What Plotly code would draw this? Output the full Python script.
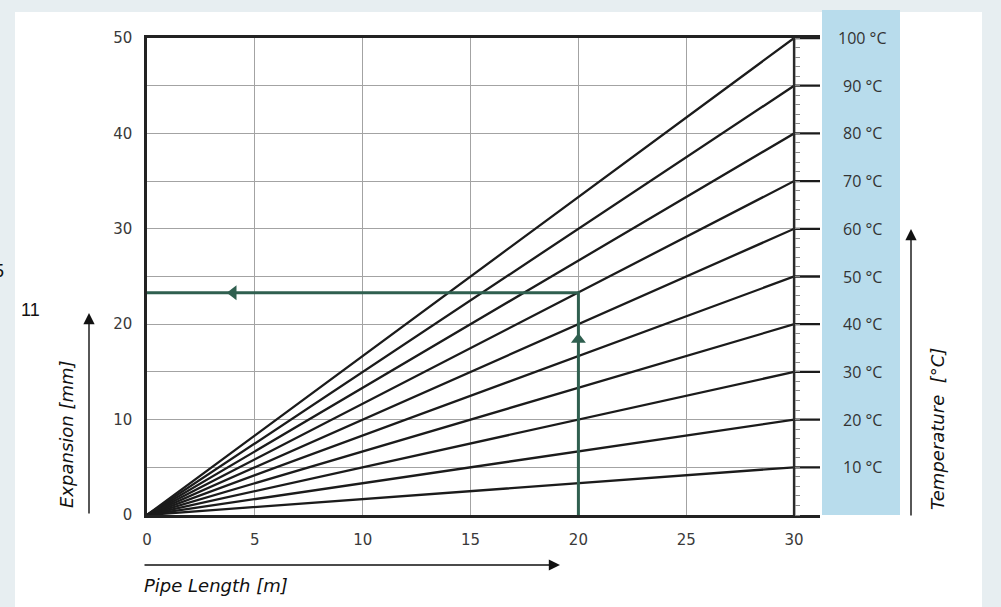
import plotly.graph_objects as go

# Temperature difference lines (expansion reached at 30 m pipe length)
temps = [10, 20, 30, 40, 50, 60, 70, 80, 90, 100]
exp_at_30m = [5, 10, 15, 20, 25, 30, 35, 40, 45, 50]
pipe_len = [0, 30, 31.2]

# Reading example (green path)
ex_len = [20, 20, 0]
ex_exp = [0, 23.3, 23.3]
arrow_x = [4.0, 20]
arrow_y = [23.3, 18.4]
arrow_sym = ["triangle-left", "triangle-up"]

x_ticks = [0, 5, 10, 15, 20, 25, 30]
y_ticks = [0, 10, 20, 30, 40, 50]

GREEN = "#2f5f4f"
INK = "#1b1b1b"
BG = "#e7eef1"

# pixel helpers for things drawn outside the plot area
L, R, T, B = 147, 820, 38, 515
def px(x):
    return (x - L) / (R - L)
def py(y):
    return (B - y) / (B - T)

fig = go.Figure()

for t, e in zip(temps, exp_at_30m):
    fig.add_trace(go.Scatter(
        x=pipe_len, y=[0, e, e], mode="lines", name=f"{t} °C",
        line=dict(color=INK, width=2.3), hoverinfo="skip"
    ))

# vertical line at 30 m
fig.add_trace(go.Scatter(
    x=[30, 30], y=[0, 50], mode="lines",
    line=dict(color="#2a2a2a", width=2.5), hoverinfo="skip"
))

fig.add_trace(go.Scatter(
    x=ex_len, y=ex_exp, mode="lines",
    line=dict(color=GREEN, width=3), hoverinfo="skip"
))
fig.add_trace(go.Scatter(
    x=arrow_x, y=arrow_y, mode="markers",
    marker=dict(symbol=arrow_sym, size=13, color=GREEN), hoverinfo="skip"
))

shapes = [
    # white panel on light frame
    dict(type="rect", xref="paper", yref="paper", layer="below",
         x0=px(15), x1=px(982), y0=py(610), y1=py(12),
         fillcolor="white", line_width=0),
    # blue temperature band
    dict(type="rect", xref="paper", yref="paper", layer="below",
         x0=px(822), x1=px(900), y0=py(515), y1=py(10),
         fillcolor="#b8dcec", line_width=0),
]

annotations = []
for t, e in zip(temps, exp_at_30m):
    annotations.append(dict(
        x=px(862), y=e, xref="paper", yref="y", text=f"{t} °C",
        xanchor="center", yanchor="middle",
        showarrow=False, font=dict(family="Open Sans", size=16, color="#333")
    ))

# axis arrows
arrow_style = dict(showarrow=True, arrowhead=2, arrowsize=1.6, arrowwidth=1.4,
                   arrowcolor="#111", text="", xref="paper", yref="paper")
annotations += [
    dict(x=px(560), y=py(565), ax=-417, ay=0, **arrow_style),
    dict(x=px(89), y=py(313), ax=0, ay=202, **arrow_style),
    dict(x=px(911), y=py(229), ax=0, ay=288, **arrow_style),
]
lbl_font = dict(family="DejaVu Sans", size=18, color="#111")
txt = dict(xref="paper", yref="paper", showarrow=False, yanchor="middle")
annotations += [
    dict(x=px(142), y=py(585), xanchor="left",
         text="<i>Pipe Length [m]</i>", font=lbl_font, **txt),
    dict(x=px(66), y=py(434), xanchor="center", textangle=-90,
         text="<i>Expansion [mm]</i>", font=lbl_font, **txt),
    dict(x=px(937), y=py(429), xanchor="center", textangle=-90,
         text="<i>Temperature  [°C]</i>", font=lbl_font, **txt),
    # stray page text
    dict(x=px(30), y=py(310), xanchor="center",
         text="11", font=dict(family="Liberation Sans", size=18, color="#111"), **txt),
    dict(x=px(6), y=py(271), xanchor="right",
         text="5", font=dict(family="Liberation Sans", size=18, color="#111"), **txt),
]

tick_font = dict(family="DejaVu Sans", size=15, color="#3a3a3a")

fig.update_layout(
    width=1001, height=607,
    margin=dict(l=L, r=1001 - R, t=T, b=607 - B),
    paper_bgcolor=BG, plot_bgcolor="white",
    showlegend=False,
    shapes=shapes, annotations=annotations,
    font=dict(family="DejaVu Sans", size=14, color="#333"),
)
fig.update_xaxes(
    range=[0, 31.2], tickvals=x_ticks, showgrid=True, gridcolor="#a3a3a3", gridwidth=1,
    showline=True, linecolor="#222", linewidth=2.5, mirror=True,
    zeroline=False, ticks="", ticklabelstandoff=9, tickfont=tick_font,
)
fig.update_yaxes(
    range=[0, 50], tickvals=y_ticks, showgrid=True, gridcolor="#a3a3a3", gridwidth=1,
    minor=dict(dtick=5, showgrid=True, gridcolor="#a3a3a3", gridwidth=1),
    showline=True, linecolor="#222", linewidth=2.5,
    zeroline=False, ticks="", ticklabelstandoff=9, tickfont=tick_font,
)

# small ticks along the 30 m line
fig.update_layout(yaxis2=dict(
    overlaying="y", anchor="free", position=px(794), side="right",
    range=[0, 50], dtick=1, ticks="outside", ticklen=5, tickcolor="#888",
    showticklabels=False, showgrid=False, zeroline=False, showline=False,
))
fig.add_trace(go.Scatter(x=[None], y=[None], yaxis="y2", showlegend=False))

fig.write_html(
    "out.html",
    config={"displayModeBar": False},
    post_script="document.body.style.margin='0';document.body.style.overflow='hidden';"
                f"document.body.style.background='{BG}';",
)
